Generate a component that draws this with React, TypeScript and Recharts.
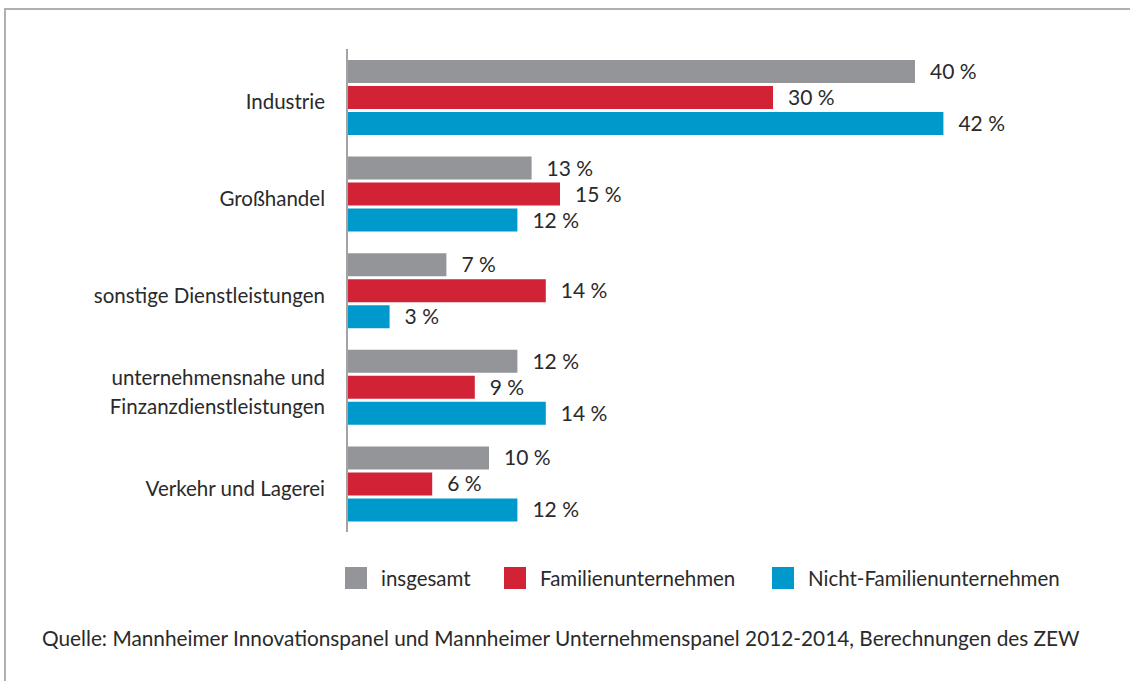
import React from "react";
import { BarChart, Bar, XAxis, YAxis, LabelList } from "recharts";

// ─── Data ────────────────────────────────────────────────

const categories = [
  "Industrie",
  "Großhandel",
  "sonstige Dienstleistungen",
  "unternehmensnahe und\nFinzanzdienstleistungen",
  "Verkehr und Lagerei",
];
const insgesamt = [40, 13, 7, 12, 10];
const familienunternehmen = [30, 15, 14, 9, 6];
const nichtFamilienunternehmen = [42, 12, 3, 14, 12];

const seriesNames = ["insgesamt", "Familienunternehmen", "Nicht-Familienunternehmen"];
const COLORS = ["#939598", "#d12335", "#0099cc"];

const data = categories.map((name, i) => ({
  name,
  insgesamt: insgesamt[i],
  familien: familienunternehmen[i],
  nicht: nichtFamilienunternehmen[i],
}));

const FONT = "'Lato', sans-serif";
const TEXT = "#2a2a2a";

// ─── Category tick (mehrzeilig) ──────────────────────────

interface TickProps {
  x?: number;
  y?: number;
  payload?: { value: string };
}

function CategoryTick({ x = 0, y = 0, payload }: TickProps) {
  const lines = (payload?.value ?? "").split("\n");
  const lh = 29;
  const start = -((lines.length - 1) * lh) / 2 + 4;
  return (
    <text
      x={x - 14}
      y={y}
      textAnchor="end"
      fill={TEXT}
      fontSize={20.5}
      fontFamily={FONT}
      dominantBaseline="central"
    >
      {lines.map((l, i) => (
        <tspan key={i} x={x - 14} dy={i === 0 ? start : lh}>
          {l}
        </tspan>
      ))}
    </text>
  );
}

const fmt = (v: number) => `${v} %`;

export default function App() {
  return (
    <div
      style={{
        position: "absolute",
        left: 0,
        top: 0,
        width: 1130,
        height: 681,
        background: "#fff",
        overflow: "hidden",
        fontFamily: FONT,
      }}
    >
      {/* Rahmen: nur oben und links sichtbar */}
      <div
        style={{
          position: "absolute",
          left: 4,
          top: 8,
          width: 1200,
          height: 800,
          borderTop: "2px solid #b0b0b0",
          borderLeft: "2px solid #b0b0b0",
        }}
      />
      <div style={{ position: "absolute", left: 0, top: 0 }}>
        <BarChart
          width={1130}
          height={560}
          data={data}
          layout="vertical"
          margin={{ top: 49, right: 73, left: 0, bottom: 28 }}
          barSize={23}
          barGap={3}
        >
          <XAxis type="number" domain={[0, 50]} hide />
          <YAxis
            type="category"
            dataKey="name"
            width={347}
            tickLine={false}
            axisLine={{ stroke: "#a3a3a3", strokeWidth: 2 }}
            tick={(props: TickProps) => <CategoryTick {...props} />}
            interval={0}
          />
          {(["insgesamt", "familien", "nicht"] as const).map((key, i) => (
            <Bar key={key} dataKey={key} fill={COLORS[i]} isAnimationActive={false}>
              <LabelList
                dataKey={key}
                position="right"
                offset={15}
                formatter={(v: unknown) => fmt(Number(v))}
                fill={TEXT}
                fontSize={21}
                fontFamily={FONT}
              />
            </Bar>
          ))}
        </BarChart>
      </div>

      {/* Legende */}
      {seriesNames.map((s, i) => {
        const lefts = [345, 504, 772];
        return (
          <div
            key={s}
            style={{
              position: "absolute",
              left: lefts[i],
              top: 567,
              height: 22,
              display: "flex",
              alignItems: "center",
              gap: 14,
              fontSize: 20.5,
              color: TEXT,
              whiteSpace: "nowrap",
            }}
          >
            <span style={{ width: 22, height: 22, background: COLORS[i], display: "inline-block" }} />
            <span>{s}</span>
          </div>
        );
      })}

      {/* Quelle */}
      <div
        style={{
          position: "absolute",
          left: 42,
          top: 625,
          fontSize: 20.8,
          color: TEXT,
          whiteSpace: "nowrap",
        }}
      >
        Quelle: Mannheimer Innovationspanel und Mannheimer Unternehmenspanel 2012-2014, Berechnungen des ZEW
      </div>
    </div>
  );
}
